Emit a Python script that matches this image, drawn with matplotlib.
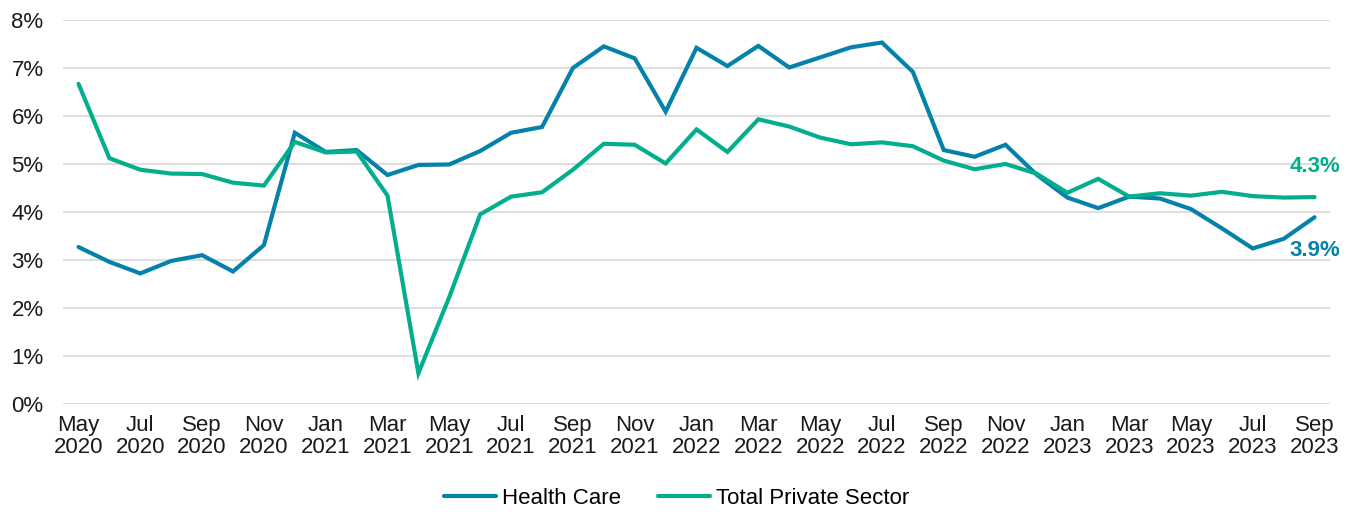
import matplotlib
matplotlib.use("Agg")
import matplotlib.pyplot as plt

# Monthly series, May 2020 .. Sep 2023
months = ["May", "Jun", "Jul", "Aug", "Sep", "Oct", "Nov", "Dec",
          "Jan", "Feb", "Mar", "Apr", "May", "Jun", "Jul", "Aug", "Sep", "Oct", "Nov", "Dec",
          "Jan", "Feb", "Mar", "Apr", "May", "Jun", "Jul", "Aug", "Sep", "Oct", "Nov", "Dec",
          "Jan", "Feb", "Mar", "Apr", "May", "Jun", "Jul", "Aug", "Sep"]
years = [2020] * 8 + [2021] * 12 + [2022] * 12 + [2023] * 9

health_care = [3.27, 2.96, 2.72, 2.98, 3.10, 2.76, 3.31, 5.65,
               5.25, 5.29, 4.77, 4.98, 4.99, 5.27, 5.65, 5.77, 7.00, 7.45, 7.20, 6.09,
               7.42, 7.04, 7.46, 7.01, 7.22, 7.43, 7.53, 6.92, 5.29, 5.15, 5.40, 4.78,
               4.30, 4.08, 4.32, 4.28, 4.06, 3.66, 3.24, 3.44, 3.89]
total_private = [6.67, 5.12, 4.88, 4.80, 4.79, 4.61, 4.55, 5.46,
                 5.24, 5.26, 4.34, 0.64, 2.23, 3.95, 4.32, 4.41, 4.88, 5.42, 5.40, 5.01,
                 5.72, 5.25, 5.93, 5.78, 5.55, 5.41, 5.45, 5.37, 5.07, 4.89, 5.00, 4.80,
                 4.40, 4.69, 4.32, 4.39, 4.34, 4.42, 4.33, 4.30, 4.31]

blue = "#0582aa"
green = "#03ae8d"
narrow = ["Liberation Sans Narrow", "Liberation Sans", "DejaVu Sans"]
regular = ["Liberation Sans", "DejaVu Sans"]

fig = plt.figure(figsize=(13.53, 5.12), dpi=100)
ax = fig.add_axes([0.0466, 0.211, 0.9364, 0.750])

x = list(range(len(months)))
ax.plot(x, health_care, color=blue, lw=3, label="Health Care",
        solid_joinstyle="miter", solid_capstyle="round", zorder=3)
ax.plot(x, total_private, color=green, lw=3, label="Total Private Sector",
        solid_joinstyle="miter", solid_capstyle="round", zorder=3)

ax.set_xlim(-0.5, len(months) - 0.5)
ax.set_ylim(0, 8)

ax.set_yticks(range(0, 9))
ax.set_yticklabels([f"{v}%" for v in range(0, 9)], family=regular, fontsize=16, color="#1a1a1a")
ticks = x[::2]
ax.set_xticks(ticks)
ax.set_xticklabels([f"{months[i]}\n{years[i]}" for i in ticks], family=narrow, fontsize=16,
                   color="#1a1a1a", linespacing=1.05)
ax.tick_params(axis="both", length=0)
ax.tick_params(axis="y", pad=14)
ax.tick_params(axis="x", pad=8)

ax.grid(axis="y", color="#dedede", lw=1.5, zorder=0)
ax.set_axisbelow(True)
for s in ax.spines.values():
    s.set_visible(False)

# end labels
ax.annotate(f"{total_private[-1]:.1f}%", (x[-1], total_private[-1]), xytext=(0, 22),
            textcoords="offset points", ha="center", va="center", color=green,
            fontsize=16, fontweight="bold", family=regular)
ax.annotate(f"{health_care[-1]:.1f}%", (x[-1], health_care[-1]), xytext=(0, -24),
            textcoords="offset points", ha="center", va="center", color=blue,
            fontsize=16, fontweight="bold", family=regular)

fig.legend(loc="center", bbox_to_anchor=(0.500, 0.027), ncol=2, frameon=False,
           prop={"family": narrow, "size": 16}, handlelength=2.35, handletextpad=0.27,
           columnspacing=1.67)

fig.savefig("out.png", dpi=100)
